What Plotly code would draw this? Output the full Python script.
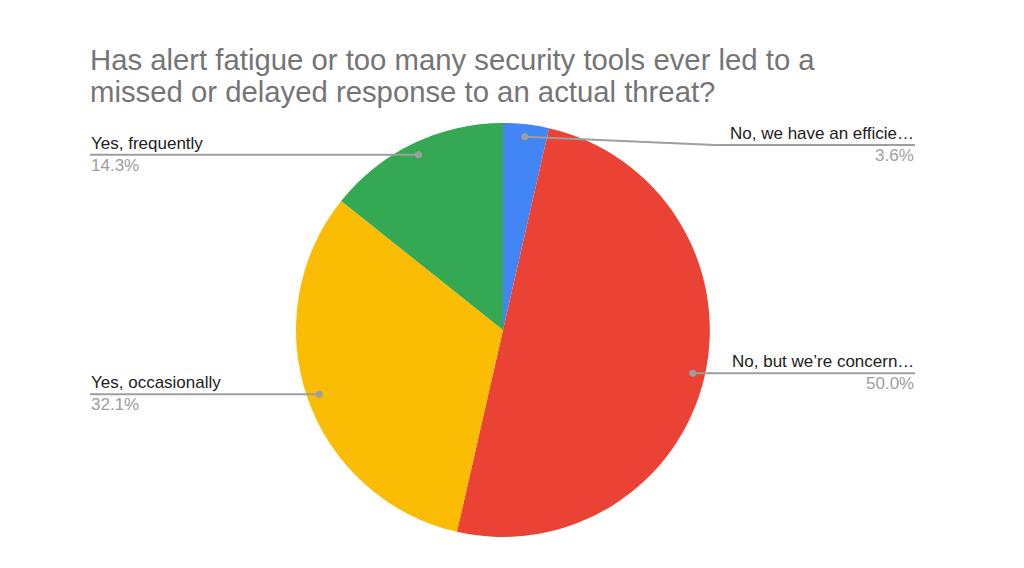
import math
from plotly import graph_objects

W, H = 1024, 568
OFFSET = 8  # page body margin

# chart data
answers = ["No, we have an efficie…", "No, but we’re concern…", "Yes, occasionally", "Yes, frequently"]
responses = [1, 14, 9, 4]
colors = ["#4285f4", "#ea4335", "#fbbc04", "#34a853"]
title_lines = ["Has alert fatigue or too many security tools ever led to a",
               "missed or delayed response to an actual threat?"]

# pie geometry in pixels
cx, cy, r = 503, 330, 207
label_left, label_right = 90, 915
label_top = 145
FONT = "Liberation Sans, Arial, sans-serif"


def px(x):
    return (x - OFFSET) / W


def py(y):
    return 1 - (y - OFFSET) / H


figure = graph_objects.Figure()
figure.add_trace(graph_objects.Pie(
    labels=answers, values=responses, sort=False, direction="clockwise", rotation=0,
    marker=dict(colors=colors, line=dict(width=0)),
    textinfo="none", hoverinfo="label+percent", showlegend=False,
    domain=dict(x=[px(cx - r), px(cx + r)], y=[py(cy + r), py(cy - r)]),
))

total = sum(responses)
start = 0
for name, val in zip(answers, responses):
    mid = (start + val / 2) / total * 2 * math.pi
    start += val
    dx = cx + 0.94 * r * math.sin(mid)
    dy = cy - 0.94 * r * math.cos(mid)
    ly = max(dy, label_top)
    right = math.sin(mid) > 0
    pct = f"{val / total * 100:.1f}%"
    if right:
        elbow = label_right - 200 if ly != dy else dx
        end = label_right
        xa = "right"
    else:
        elbow = dx
        end = label_left
        xa = "left"
    line = dict(color="#9e9e9e", width=2)
    figure.add_shape(type="line", xref="paper", yref="paper",
                     x0=px(dx), y0=py(dy), x1=px(elbow), y1=py(ly), line=line)
    figure.add_shape(type="line", xref="paper", yref="paper",
                     x0=px(elbow), y0=py(ly), x1=px(end), y1=py(ly), line=line)
    figure.add_shape(type="circle", xref="paper", yref="paper",
                     x0=px(dx - 3.5), y0=py(dy - 3.5), x1=px(dx + 3.5), y1=py(dy + 3.5),
                     fillcolor="#9e9e9e", line=dict(width=0))
    figure.add_annotation(x=px(end), y=py(ly - 1), xref="paper", yref="paper", text=name,
                          showarrow=False, xanchor=xa, yanchor="bottom",
                          font=dict(family=FONT, size=17, color="#222222"), borderpad=0)
    figure.add_annotation(x=px(end), y=py(ly), xref="paper", yref="paper", text=pct,
                          showarrow=False, xanchor=xa, yanchor="top",
                          font=dict(family=FONT, size=17, color="#9e9e9e"), borderpad=0)

for i, t in enumerate(title_lines):
    figure.add_annotation(x=px(89), y=py(77 + 32.5 * i), xref="paper", yref="paper", text=t,
                          showarrow=False, xanchor="left", yanchor="bottom", align="left",
                          font=dict(family=FONT, size=29.3, color="#757575"), borderpad=0)

figure.update_layout(width=W, height=H, autosize=False, margin=dict(l=0, r=0, t=0, b=0),
                     paper_bgcolor="white", plot_bgcolor="white")

figure.write_html("out.html")
